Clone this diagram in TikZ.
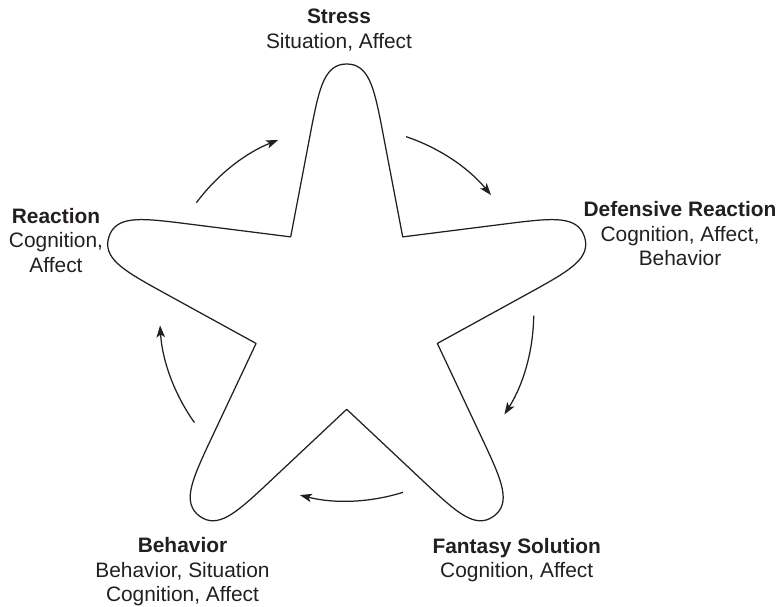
\documentclass[tikz,border=0pt]{standalone}
\usepackage{fontspec}
\setmainfont{Liberation Sans}
\usetikzlibrary{arrows.meta,calc}
\definecolor{ink}{HTML}{231F20}
\begin{document}
\begin{tikzpicture}[x=1pt,y=1pt,
  lbl/.style={align=center, inner sep=0pt, anchor=base, text=ink,
    font=\fontsize{20.9}{24.6}\selectfont},
  starline/.style={draw=ink, line width=1.25pt, line join=round},
  cyc/.style={draw=ink, line width=1.25pt,
    -{Stealth[length=12pt,width=8.5pt,inset=3pt]}}]
\useasboundingbox (0,0) rectangle (780,607);
\coordinate (c) at (346.7,293);

% five-pointed star with rounded, finger-like tips
\begin{scope}[shift={(c)}]
\draw[starline] (126:95.3)
  \foreach \a in {90,18,-54,-126,-198}{
    -- (\a+10.29:193.1)
    .. controls (\a+6.89:227.6) and (\a+5.03:251) .. (\a:250)
    .. controls (\a-5.03:251) and (\a-6.89:227.6) .. (\a-10.29:193.1)
    -- (\a-36:95.3)
  } -- cycle;
\end{scope}

% clockwise cycle arrows between the points
\foreach \m [count=\i] in {126,54,-18,-90,198}{
  \coordinate (s\i) at ($(c)+(\m+17.5:187)$);
  \draw[cyc] (s\i) arc[start angle=\m+17.5, end angle=\m-14.5, radius=187];
}

% stage labels (the base anchor sits on the last line)
\node[lbl] (stress)  at (339,558.4)   {\textbf{Stress}\\Situation, Affect};
\node[lbl] (defense) at (680,341.1)   {\textbf{Defensive Reaction}\\Cognition, Affect,\\Behavior};
\node[lbl] (fantasy) at (516.7,29.1)  {\textbf{Fantasy Solution}\\Cognition, Affect};
\node[lbl] (behav)   at (182.5,5.1)   {\textbf{Behavior}\\Behavior, Situation\\Cognition, Affect};
\node[lbl] (react)   at (56,334.5)    {\textbf{Reaction}\\Cognition,\\Affect};
\end{tikzpicture}
\end{document}
